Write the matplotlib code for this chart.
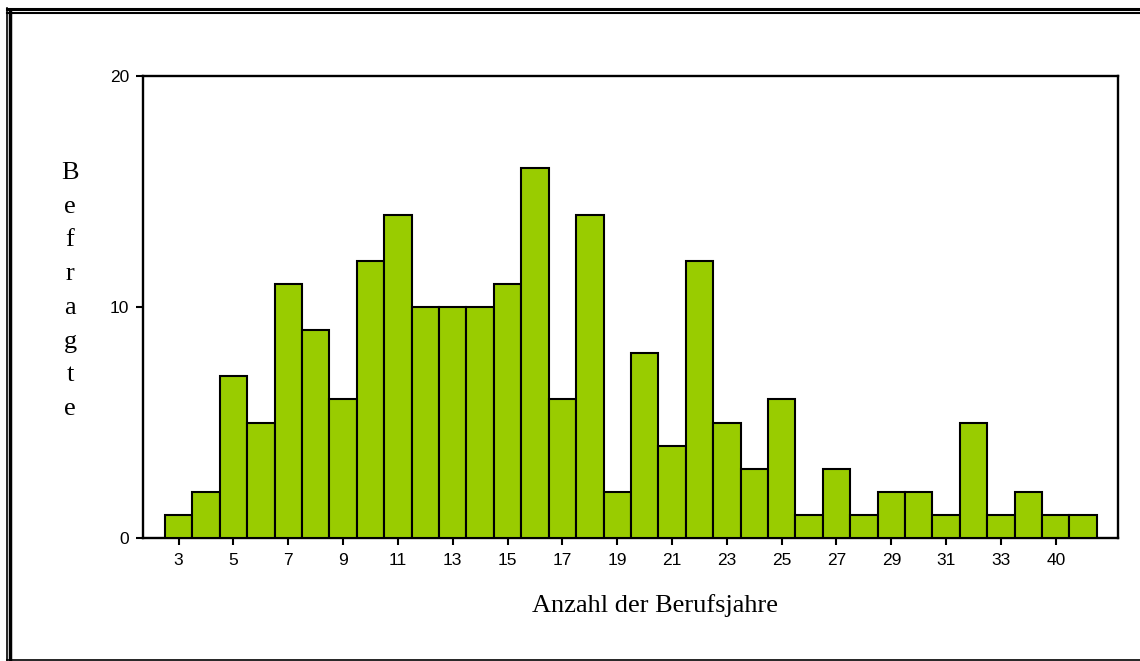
import matplotlib
matplotlib.use("Agg")
import matplotlib.pyplot as plt
from matplotlib.lines import Line2D

# Anzahl der Berufsjahre -> Anzahl Befragte
jahre = [str(j) for j in range(3, 34)] + ["35", "40", "42"]
befragte = [1, 2, 7, 5, 11, 9, 6, 12, 14, 10, 10, 10, 11, 16, 6, 14, 2, 8,
            4, 12, 5, 3, 6, 1, 3, 1, 2, 2, 1, 5, 1, 2, 1, 1]
y_ticks = [0, 10, 20]

W, H = 1140, 661
fig = plt.figure(figsize=(W / 100, H / 100), dpi=100)
ax = fig.add_axes([143 / W, 1 - 538 / H, (1118 - 143) / W, (538 - 76) / H])

pos = list(range(len(jahre)))
ax.bar(pos, befragte, width=1.0, color="#99cc00", edgecolor="black",
       linewidth=1.5, zorder=3)

ax.set_xlim(-1.3, len(jahre) - 0.5 + 0.77)
ax.set_ylim(0, 20)
ax.set_xticks(pos[::2])
ax.set_xticklabels(jahre[::2], fontsize=12.5, family="Liberation Sans")
ax.set_yticks(y_ticks)
ax.set_yticklabels([str(t) for t in y_ticks], fontsize=12.5,
                   family="Liberation Sans")
ax.tick_params(axis="both", length=5, width=1.5, direction="out")
ax.tick_params(axis="x", pad=6)
ax.tick_params(axis="y", pad=5)
for s in ax.spines.values():
    s.set_linewidth(1.7)

# Achsentitel (serif)
fig.text(655 / W, 1 - 606 / H, "Anzahl der Berufsjahre", ha="center",
         va="center", fontsize=19, family="Liberation Serif")
for i, ch in enumerate("Befragte"):
    fig.text(70 / W, 1 - (173 + i * 33.7) / H, ch, ha="center", va="center",
             fontsize=19, family="Liberation Serif")

# Rahmen um die Grafik
fig.add_artist(Line2D([7 / W, 1], [1 - 8.5 / H, 1 - 8.5 / H], color="black", lw=2.2))
fig.add_artist(Line2D([7 / W, 1], [1 - 12.5 / H, 1 - 12.5 / H], color="black", lw=1.5))
fig.add_artist(Line2D([7 / W, 7 / W], [1 - 8 / H, 1 - 660 / H], color="black", lw=1.2))
fig.add_artist(Line2D([9.5 / W, 9.5 / W], [1 - 12 / H, 1 - 660 / H], color="black", lw=2.5))
fig.add_artist(Line2D([7 / W, 1], [1 - 660 / H, 1 - 660 / H], color="black", lw=1.2))

fig.savefig("out.png", dpi=100)
